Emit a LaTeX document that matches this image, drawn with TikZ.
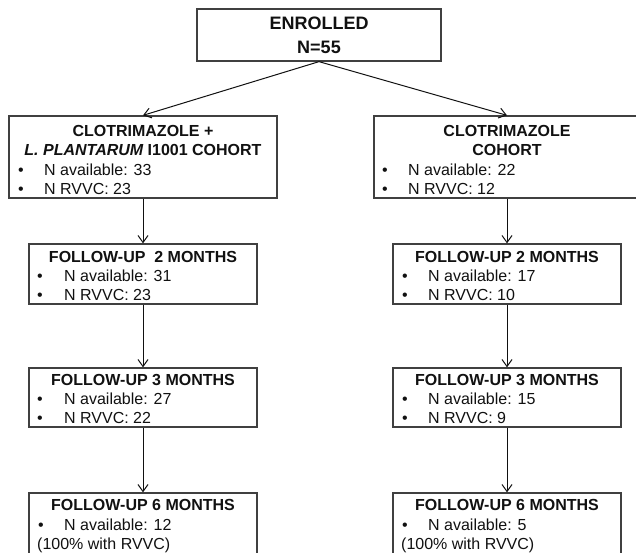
\documentclass[tikz,border=0pt]{standalone}
\usepackage{fontspec}
\setmainfont{Liberation Sans}
\usetikzlibrary{arrows.meta}
\definecolor{txt}{HTML}{111111}
\definecolor{edge}{HTML}{404040}
\newcommand\bitem[5]{%
  \node[bul] (#1b) at (#2,#4) {\textbullet};
  \node[itm] (#1) at (#3,#4) {#5};}
\begin{document}
\begin{tikzpicture}[x=1bp,y=-1bp,
  box/.style={draw=edge, line width=1.3bp, fill=white, inner sep=0pt},
  ttl/.style={anchor=base, inner sep=0pt, text=txt, font=\fontsize{16bp}{19bp}\selectfont\bfseries},
  big/.style={anchor=base, inner sep=0pt, text=txt, font=\fontsize{18bp}{22bp}\selectfont\bfseries},
  itm/.style={anchor=base west, inner sep=0pt, text=txt, font=\fontsize{16bp}{19bp}\selectfont},
  bul/.style={anchor=base, inner sep=0pt, text=txt, font=\fontsize{16bp}{19bp}\selectfont},
  conn/.style={draw=txt, line width=1bp, -{Straight Barb[length=7bp,width=10bp]}}]
\useasboundingbox (0,0) rectangle (636,553);
\clip (0,0) rectangle (636,553);
\fill[white] (0,0) rectangle (636,553);
% boxes
\node[box, minimum width=244bp, minimum height=52bp] (enr) at (319,35) {};
\node[box, minimum width=268bp, minimum height=82bp] (c1) at (143,157) {};
\node[box, minimum width=266bp, minimum height=82bp] (c2) at (507,157) {};
\node[box, minimum width=228bp, minimum height=60bp] (l2) at (143,274) {};
\node[box, minimum width=228bp, minimum height=59bp] (l3) at (143,397.5) {};
\node[box, minimum width=228bp, minimum height=67bp] (l6) at (143,526.5) {};
\node[box, minimum width=228bp, minimum height=60bp] (r2) at (507,274) {};
\node[box, minimum width=228bp, minimum height=59bp] (r3) at (507,397.5) {};
\node[box, minimum width=228bp, minimum height=67bp] (r6) at (507,526.5) {};
% connectors
\draw[conn] (enr.south) -- (c1.north);
\draw[conn] (enr.south) -- (c2.north);
\draw[conn] (c1.south) -- (l2.north);
\draw[conn] (l2.south) -- (l3.north);
\draw[conn] (l3.south) -- (l6.north);
\draw[conn] (c2.south) -- (r2.north);
\draw[conn] (r2.south) -- (r3.north);
\draw[conn] (r3.south) -- (r6.north);
% enrolled
\node[big] (enrA) at (319,29.5) {ENROLLED};
\node[big] (enrB) at (319,53.5) {N=55};
% left cohort
\node[ttl] (c1t1) at (143,137) {CLOTRIMAZOLE +};
\node[ttl] (c1t2) at (143,156) {\itshape L. PLANTARUM\upshape{} I1001 COHORT};
\bitem{c1i1}{21}{44}{176}{N available: 33}
\bitem{c1i2}{21}{44}{195}{N RVVC: 23}
% right cohort
\node[ttl] (c2t1) at (507,137) {CLOTRIMAZOLE};
\node[ttl] (c2t2) at (507,156) {COHORT};
\bitem{c2i1}{385}{408}{176}{N available: 22}
\bitem{c2i2}{385}{408}{195}{N RVVC: 12}
% left follow-ups
\node[ttl] (l2t) at (143,262) {FOLLOW-UP\hspace{0.55em}2 MONTHS};
\bitem{l2i1}{40}{64}{281}{N available: 31}
\bitem{l2i2}{40}{64}{300}{N RVVC: 23}
\node[ttl] (l3t) at (143,385) {FOLLOW-UP 3 MONTHS};
\bitem{l3i1}{40}{64}{404}{N available: 27}
\bitem{l3i2}{40}{64}{423}{N RVVC: 22}
\node[ttl] (l6t) at (143,510) {FOLLOW-UP 6 MONTHS};
\bitem{l6i1}{41}{64}{530}{N available: 12}
\node[itm] (l6n) at (37,549) {(100\% with RVVC)};
% right follow-ups
\node[ttl] (r2t) at (507,262) {FOLLOW-UP 2 MONTHS};
\bitem{r2i1}{405}{428}{281}{N available: 17}
\bitem{r2i2}{405}{428}{300}{N RVVC: 10}
\node[ttl] (r3t) at (507,385) {FOLLOW-UP 3 MONTHS};
\bitem{r3i1}{405}{428}{404}{N available: 15}
\bitem{r3i2}{405}{428}{423}{N RVVC: 9}
\node[ttl] (r6t) at (507,510) {FOLLOW-UP 6 MONTHS};
\bitem{r6i1}{405}{428}{530}{N available: 5}
\node[itm] (r6n) at (401,549) {(100\% with RVVC)};
\end{tikzpicture}
\end{document}
